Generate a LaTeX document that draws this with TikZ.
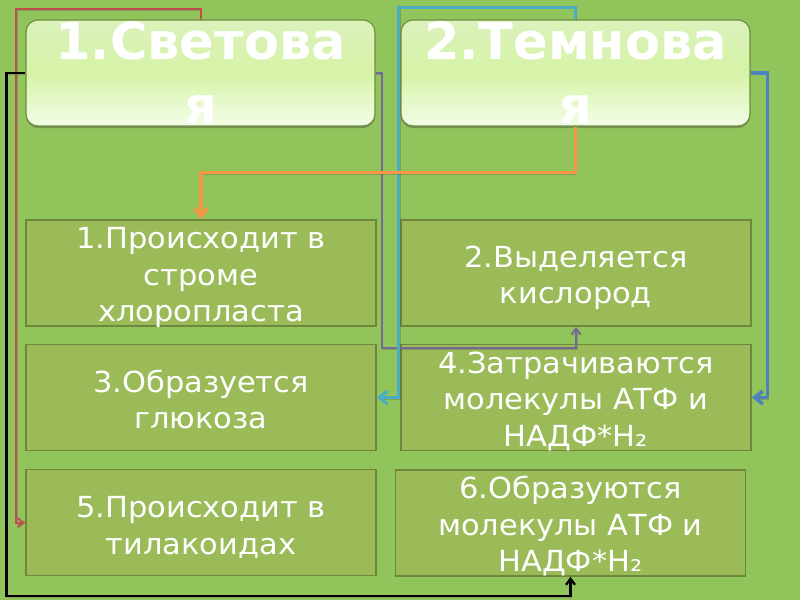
\documentclass[tikz,border=0pt]{standalone}
\usepackage{fontspec}
\setmainfont{DejaVu Sans}
\newfontfamily\boxfont{DejaVu Sans}[FakeStretch=1.05]
\newfontfamily\headfont{DejaVu Sans Bold}
\usetikzlibrary{arrows.meta,shadows}
\definecolor{bgc}{HTML}{91C55C}
\definecolor{boxfill}{HTML}{9BBB59}
\definecolor{boxline}{HTML}{6F873D}
\definecolor{headline}{HTML}{6E8F3E}
\definecolor{headtop}{HTML}{DBF2BC}
\definecolor{headmid}{HTML}{D6F3A6}
\definecolor{headbot}{HTML}{F3FDE8}
\definecolor{cred}{HTML}{C0504D}
\definecolor{cpurple}{HTML}{76699A}
\definecolor{cteal}{HTML}{4BACC6}
\definecolor{cblue}{HTML}{4F81BD}
\definecolor{corange}{HTML}{F79646}
\tikzset{
  headbox/.style={rounded corners=12pt, draw=headline, line width=1.2pt,
    top color=headtop, bottom color=headbot, middle color=headmid,
    drop shadow={shadow xshift=0pt, shadow yshift=-2pt, opacity=0.45, fill=black!70},
    minimum width=349pt, minimum height=106pt, inner sep=0pt, align=center,
    text=white, font=\headfont\fontsize{51}{64}\selectfont},
  infobox/.style={draw=boxline, line width=1.8pt, fill=boxfill,
    minimum width=350pt, minimum height=106pt, inner sep=0pt},
  infotext/.style={inner sep=0pt, align=center,
    text=white, font=\boxfont\fontsize{29}{36.5}\selectfont},
  conn/.style={line join=miter,
    preaction={draw=black!70, opacity=0.3, transform canvas={shift={(0.8pt,-1.2pt)}}}},
  bigtip/.style={-{Straight Barb[length=8pt,width=13pt]}},
  smalltip/.style={-{Straight Barb[length=6pt,width=9pt]}}
}
\begin{document}
\begin{tikzpicture}[x=1pt,y=-1pt]
\fill[bgc] (0,0) rectangle (800,600);
\useasboundingbox (0,0) rectangle (800,600);

\node[headbox] (h1) at (200.5,73) {1.Светова\\я};
\node[headbox] (h2) at (575.5,73) {2.Темнова\\я};

\node[infobox] (b1) at (201,273) {};
\node[infobox] (b2) at (576,273) {};
\node[infobox] (b3) at (201,397.5) {};
\node[infobox] (b4) at (576,397.5) {};
\node[infobox] (b5) at (201,522.5) {};
\node[infobox] (b6) at (570.5,523) {};

\node[infotext] (t1) at ([yshift=-4.5pt]b1.center) {1.Происходит в\\строме\\хлоропласта};
\node[infotext] (t2) at ([yshift=-4.5pt]b2.center) {2.Выделяется\\кислород};
\node[infotext] (t3) at ([yshift=-2pt]b3.center) {3.Образуется\\глюкоза};
\node[infotext] (t4) at ([yshift=-4pt]b4.center) {4.Затрачиваются\\молекулы АТФ и\\НАДФ*H₂};
\node[infotext] (t5) at ([yshift=-5pt]b5.center) {5.Происходит в\\тилакоидах};
\node[infotext] (t6) at ([yshift=-3pt]b6.center) {6.Образуются\\молекулы АТФ и\\НАДФ*H₂};

% connectors
\draw[conn, smalltip, cred, line width=2pt] (h1.north) -- ++(0,-10) -| ([xshift=-9pt]b5.west) -- (b5.west);
\draw[conn, smalltip, black, line width=2.2pt] (h1.west) -- ++(-19,0) |- ([yshift=-19pt]b6.south) -- (b6.south);
\draw[conn, smalltip, cpurple, line width=2pt] (h1.east) -- ++(6,0) |- ([yshift=-21pt]b2.south) -- (b2.south);
\draw[conn, bigtip, cteal, line width=3pt] (h2.north) -- ++(0,-12) -| ([xshift=22pt]b3.east) -- (b3.east);
\draw[conn, bigtip, cblue, line width=3.6pt] (h2.east) -- ++(17,0) |- ([xshift=16pt]b4.east) -- (b4.east);
\draw[conn, bigtip, corange, line width=3.6pt] (h2.south) -- ++(0,46) -| (b1.north);
\end{tikzpicture}
\end{document}
